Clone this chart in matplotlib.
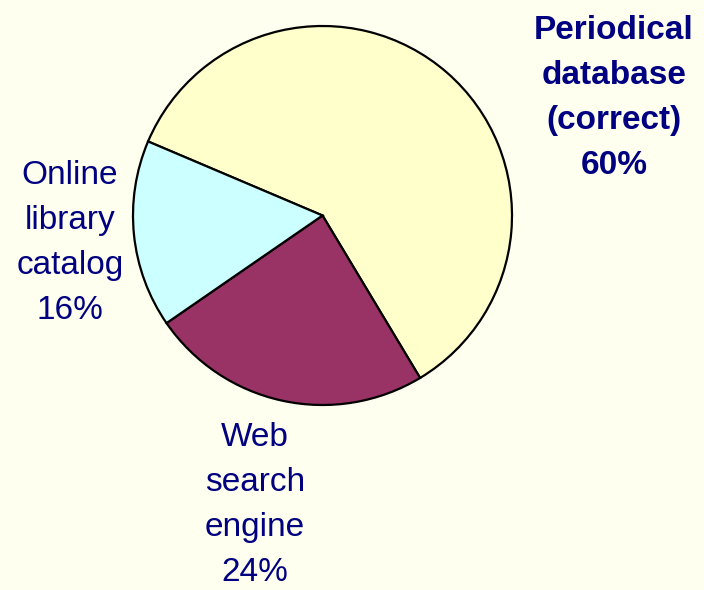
import matplotlib
matplotlib.use('Agg')
import matplotlib.pyplot as plt

# search tool shares
labels = ['Periodical\ndatabase\n(correct)\n60%', 'Web\nsearch\nengine\n24%', 'Online\nlibrary\ncatalog\n16%']
values = [60, 24, 16]
colors = ['#FFFFCC', '#993366', '#CCFFFF']

W, H = 704, 590

fig = plt.figure(figsize=(W / 100, H / 100), dpi=100)
fig.patch.set_facecolor('#FFFFF0')
ax = fig.add_axes([0, 0, 1, 1])
ax.set_xlim(0, W)
ax.set_ylim(0, H)
ax.axis('off')

ax.pie(values, colors=colors, startangle=157, counterclock=False,
       center=(322.5, H - 215.5), radius=189.5,
       wedgeprops={'edgecolor': 'black', 'linewidth': 1.6})
ax.set_xlim(0, W)
ax.set_ylim(0, H)
ax.set_aspect('equal')

navy = '#000080'
txt = dict(ha='center', va='center', color=navy, fontsize=24,
           family='Liberation Sans', linespacing=1.58, multialignment='center')
ax.text(614, H - 98, labels[0], fontweight='bold', **txt)
ax.text(255, H - 505, labels[1], **txt)
ax.text(70, H - 243, labels[2], **txt)

plt.savefig('out.png', dpi=100, facecolor=fig.get_facecolor())
